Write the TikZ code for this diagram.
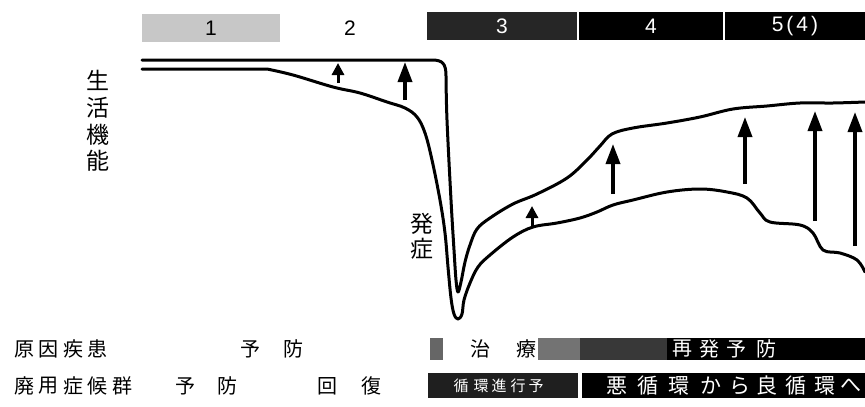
\documentclass[tikz,border=0pt]{standalone}
\usepackage{fontspec}
\setmainfont{Liberation Sans}
\newfontfamily\jp{Noto Sans CJK JP}
\usetikzlibrary{arrows.meta}
\begin{document}
\begin{tikzpicture}[x=1pt,y=-1pt,
  curve/.style={line width=3pt,line join=round,line cap=round},
  bigarrow/.style={line width=3.5pt,-{Triangle[length=20pt,width=14pt]}},
  smallarrow/.style={line width=3pt,-{Triangle[length=12pt,width=12pt]}},
  numbox/.style={inner sep=0pt,minimum height=28pt,font=\fontsize{21}{21}\selectfont},
  jpl/.style={inner sep=0pt,font=\jp\fontsize{20}{20}\selectfont},
  jpw/.style={jpl,text=white},
  jpsmall/.style={inner sep=0pt,text=white,font=\jp\fontsize{15}{15}\selectfont},
  side/.style={inner sep=0pt,font=\jp\fontsize{23}{23}\selectfont}]
\useasboundingbox (0,0) rectangle (865,407);
\fill[white] (0,0) rectangle (865,407);
% top phase bar
\node[numbox,fill=black!22,minimum width=138pt] (b1) at (211,28) {1};
\node[numbox] (b2) at (350,28) {2};
\node[numbox,fill=black!85,text=white,minimum width=150pt] (b3) at (502,26) {3};
\node[numbox,fill=black,text=white,minimum width=144pt] (b4) at (651,26) {4};
\node[numbox,fill=black,text=white,minimum width=140pt] (b5) at (795,26) {5\hspace{3pt}(\hspace{3pt}4\hspace{3pt})};
% side labels
\foreach \c/\yy [count=\i] in {生/80,活/108,機/135,能/161}
  \node[side] (s\i) at (98,\yy) {\c};
\node[side] (h1) at (422,224) {発};
\node[side] (h2) at (422,249) {症};
% curves
\draw[curve] (142,60) -- (432,60) .. controls (443,60) and (446,64) .. (446,76)
  -- plot[smooth,tension=0.6] coordinates {(446,76) (447,120) (451,200) (454,250) (456,280) (458,292) (461,282) (465,262) (470,245) (477,229) (490,218) (513,204) (537,194) (567,178) (587,160) (600,146) (612,134) (633,128) (667,123) (700,117) (733,109) (767,106) (800,103) (833,103) (865,102)};
\draw[curve] (142,69) -- (267,69)
  -- plot[smooth,tension=0.6] coordinates {(267,69) (293,75) (333,87) (360,93) (387,102) (405,108) (417,117) (425,133) (432,160) (440,200) (445,233) (448,267) (451,298) (454,314) (458,319) (462,314) (464,300) (470,283) (478,267) (490,255) (513,237) (533,227) (557,223) (580,218) (597,212) (613,205) (633,200) (667,192) (700,189) (727,192) (747,198) (760,213) (770,222) (800,225) (813,233) (823,250) (840,253) (857,260) (865,272)};
% arrows
\coordinate (a1s) at (338,83); \coordinate (a1e) at (338,63);
\coordinate (a2s) at (405,100); \coordinate (a2e) at (405,62);
\coordinate (a3s) at (532,226); \coordinate (a3e) at (532,206);
\coordinate (a4s) at (613,194); \coordinate (a4e) at (613,144);
\coordinate (a5s) at (745,184); \coordinate (a5e) at (745,117);
\coordinate (a6s) at (815,221); \coordinate (a6e) at (815,111);
\coordinate (a7s) at (855,246); \coordinate (a7e) at (855,112);
\draw[smallarrow] (a1s) -- (a1e);
\draw[bigarrow] (a2s) -- (a2e);
\draw[smallarrow] (a3s) -- (a3e);
\draw[bigarrow] (a4s) -- (a4e);
\draw[bigarrow] (a5s) -- (a5e);
\draw[bigarrow] (a6s) -- (a6e);
\draw[bigarrow] (a7s) -- (a7e);
% bottom row 1
\foreach \c [count=\i] in {原,因,疾,患}
  \node[jpl] (r1l\i) at ({24+(\i-1)*24.5},349) {\c};
\node[jpl] (r1a) at (250,349) {予};
\node[jpl] (r1b) at (293,349) {防};
\fill[black!60] (430,338) rectangle (443,360);
\node[jpl] (r1c) at (480,349) {治};
\node[jpl] (r1d) at (526,349) {療};
\fill[black!55] (538,338) rectangle (580,360);
\fill[black!78] (580,338) rectangle (667,360);
\fill[black] (667,338) rectangle (865,360);
\foreach \c/\xx [count=\i] in {再/682,発/709,予/736,防/766}
  \node[jpw] (r1r\i) at (\xx,349) {\c};
% bottom row 2
\foreach \c [count=\i] in {廃,用,症,候,群}
  \node[jpl] (r2l\i) at ({24+(\i-1)*24.5},386) {\c};
\node[jpl] (r2a) at (185,386) {予};
\node[jpl] (r2b) at (227,386) {防};
\node[jpl] (r2c) at (327,386) {回};
\node[jpl] (r2d) at (371,386) {復};
\fill[black!88] (428,373) rectangle (578,398);
\fill[black] (582,373) rectangle (865,398);
\foreach \c/\xx [count=\i] in {循/461,環/481,進/499,行/518,予/536}
  \node[jpsmall] (r2m\i) at (\xx,386) {\c};
\foreach \c/\xx [count=\i] in {悪/617,循/648,環/679,か/711,ら/740,良/767,循/796,環/825,へ/851}
  \node[jpw,font=\jp\fontsize{21}{21}\selectfont] (r2r\i) at (\xx,386) {\c};
\end{tikzpicture}
\end{document}
